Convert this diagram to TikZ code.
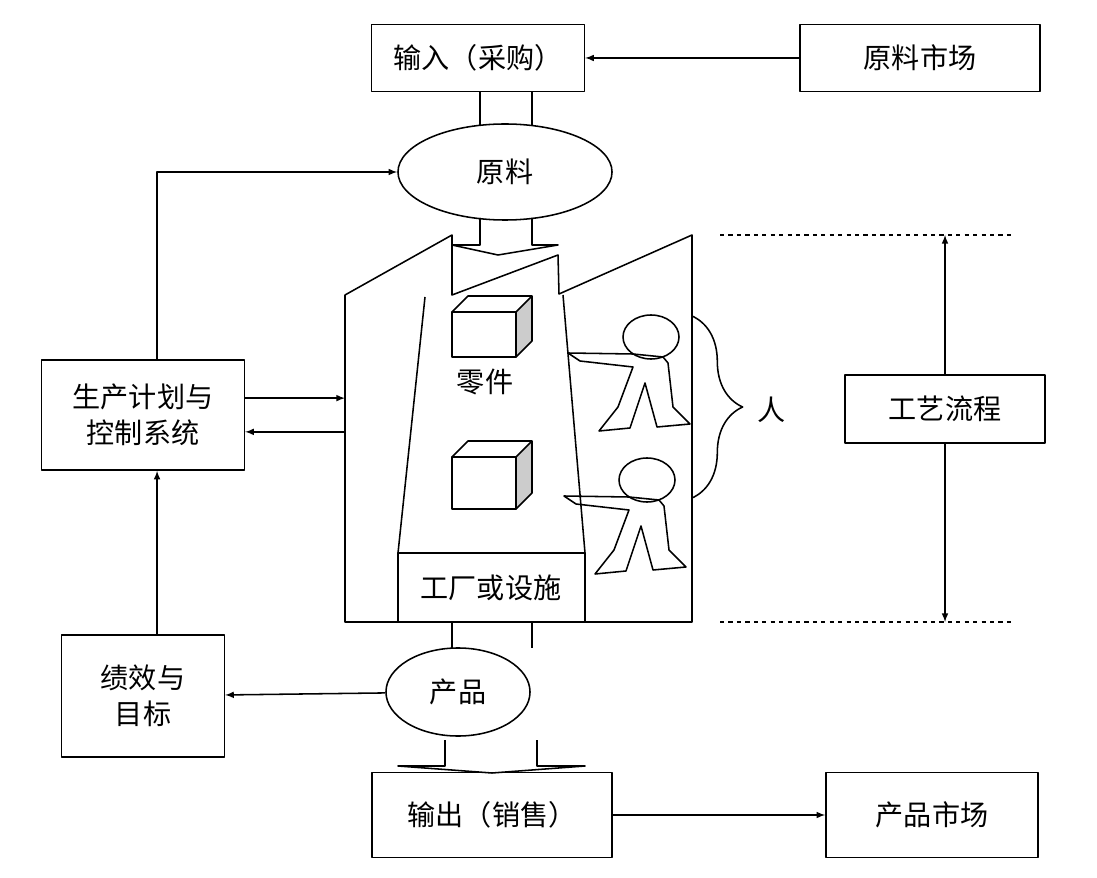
\documentclass[tikz,border=0pt]{standalone}
\usepackage{fontspec}
\newfontfamily\cjk{Noto Sans CJK SC}
\usetikzlibrary{positioning,shapes.geometric,decorations.pathreplacing}
\tikzset{
  box/.style={draw,inner sep=0pt,align=center,font=\cjk\fontsize{20}{26}\selectfont},
  oval/.style={draw,ellipse,inner sep=0pt,font=\cjk\fontsize{20}{24}\selectfont},
  txt/.style={font=\cjk\fontsize{20}{24}\selectfont},
}
\begin{document}
\begin{tikzpicture}[x=0.025cm,y=-0.025cm,line width=1.1pt,line join=round]
    \useasboundingbox (0,0) rectangle (1097,878);
    % boxes
    \node[box,minimum width=5.32cm,minimum height=1.67cm] (in) at (478,58) {输入（采购）};
    \node[box,minimum width=6cm,minimum height=1.67cm] (rawm) at (920,58) {原料市场};
    \node[oval,minimum width=5.35cm,minimum height=2.4cm] (raw) at (505,172) {原料};
    \node[box,minimum width=5.07cm,minimum height=2.75cm] (plan) at (143,415) {生产计划与\\控制系统};
    \node[box,minimum width=4.07cm,minimum height=3.05cm] (goal) at (143,696) {绩效与\\目标};
    \node[oval,minimum width=3.6cm,minimum height=2.2cm] (prod) at (458,692) {产品};
    \node[box,minimum width=6cm,minimum height=2.12cm] (out) at (492,815) {输出（销售）};
    \node[box,minimum width=5.3cm,minimum height=2.12cm] (prodm) at (932,815) {产品市场};
    \node[box,minimum width=5cm,minimum height=1.7cm] (flow) at (945,409) {工艺流程};
    % factory
    \draw (345,622) -- (345,295) -- (452,235) -- (452,295) -- (558,255) -- (559,294)
          -- (692,235) -- (692,622) -- cycle;
    \draw (425,297) -- (398,553);
    \draw (563,295) -- (585,553);
    \draw (398,553) rectangle (585,622);
    \node[txt] (fac) at (491,588) {工厂或设施};
    \coordinate (fw) at (345,415);
    % parts
    \foreach \y/\h in {312/45,457/52} {
      \draw (452,\y) rectangle ++(64,\h);
      \draw[fill=gray!40] (516,\y) -- ++(16,-16) -- ++(0,\h) -- ++(-16,16) -- cycle;
      \draw (452,\y) -- ++(16,-16) -- ++(64,0);
    }
    \node[txt] (part) at (485,382) {零件};
    % workers
    \foreach \dx/\dy in {0/0,-4/143} {
      \begin{scope}[shift={(\dx,\dy)}]
        \draw (651,337) ellipse [x radius=28,y radius=22];
        \draw (568,353) -- (633,354) -- (663,357) -- (668,363) -- (673,407) -- (690,424)
              -- (657,427) -- (645,383) -- (630,428) -- (599,431) -- (618,407) -- (633,367)
              -- (580,361) -- cycle;
      \end{scope}
    }
    \draw[decorate,decoration={brace,amplitude=36pt}] (692,316) -- (692,498);
    \node[txt] (man) at (772,410) {人};
    % block arrows
    \draw (480,92) -- (480,125) (532,92) -- (532,125);
    \draw (480,218) -- (480,245) -- (452,245) -- (498,255) -- (558,245) -- (532,245) -- (532,218);
    \draw (452,622) -- (452,648) (532,622) -- (532,648);
    \draw (445,740) -- (445,766) -- (398,766) -- (492,773) -- (585,766) -- (537,766) -- (537,740);
    % connectors
    \draw[-latex] (rawm) -- (in);
    \draw[-latex] ([xshift=10pt]plan.north) |- (raw.west);
    \draw[-latex] ([yshift=12pt]plan.east) -- ([yshift=12pt]fw);
    \draw[-latex] ([yshift=-12pt]fw) -- ([yshift=-12pt]plan.east);
    \draw[-latex] ([xshift=10pt]goal.north) -- ([xshift=10pt]plan.south);
    \draw[-latex] (prod) -- (goal);
    \draw[-latex] (out) -- (prodm);
    \coordinate (t1) at (720,235);
    \coordinate (t2) at (1015,235);
    \coordinate (b1) at (720,622);
    \coordinate (b2) at (1015,622);
    \draw[dashed] (t1) -- (t2) (b1) -- (b2);
    \draw[-latex] (flow.north) -- (945,235);
    \draw[-latex] (flow.south) -- (945,622);
\end{tikzpicture}
\end{document}
